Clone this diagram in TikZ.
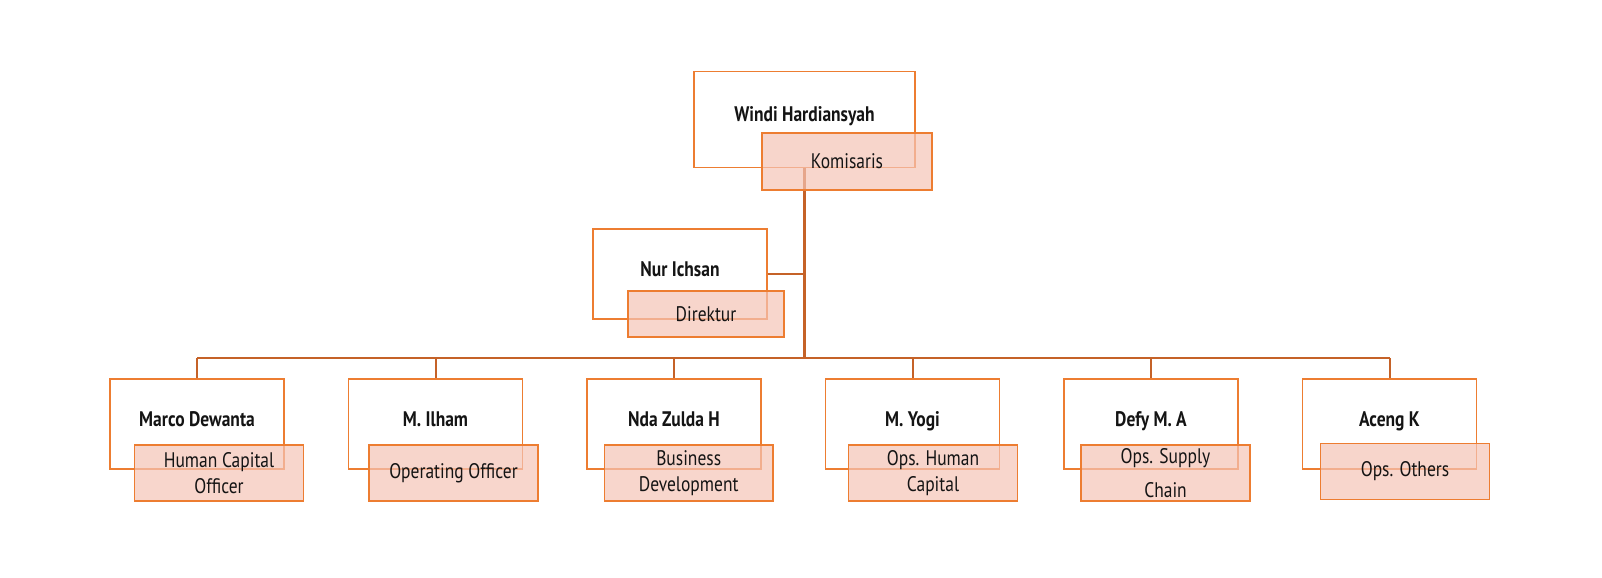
\documentclass[tikz,border=0pt]{standalone}
\usepackage{fontspec}
\setmainfont{PT Sans}[FakeStretch=0.83]
\definecolor{orgline}{RGB}{237,125,49}
\definecolor{orglink}{RGB}{197,98,40}
\definecolor{rolefill}{RGB}{245,196,182}
\definecolor{txtdark}{RGB}{20,20,20}
\usetikzlibrary{positioning,calc}

\begin{document}
\begin{tikzpicture}[x=0.75pt,y=-0.75pt,
    every node/.style={font=\fontsize{15.8}{20}\selectfont,text=txtdark},
    person/.style={draw=orgline,line width=1.1pt,fill=white,inner sep=0pt,text depth=7.5pt,
      minimum width=130.5pt,minimum height=67.5pt,font=\fontsize{15.8}{20}\selectfont\bfseries},
    role/.style={draw=orgline,line width=1.1pt,fill=rolefill,fill opacity=0.7,text opacity=1,
      inner sep=0pt,align=center,minimum width=126.5pt,minimum height=42pt},
    link/.style={draw=orglink,line width=1.5pt}]
  \useasboundingbox (0,0) rectangle (1602,578);

  %% Person boxes
  \node[person,minimum width=165.75pt,minimum height=72pt] (windi) at (804.5,119.5) {Windi Hardiansyah};
  \node[person] (nur)   at (680,274)    {Nur Ichsan};
  \node[person] (marco) at (197,424)    {Marco Dewanta};
  \node[person] (ilham) at (435.5,424)  {M. Ilham};
  \node[person] (nda)   at (674,424)    {Nda Zulda H};
  \node[person] (yogi)  at (912.5,424)  {M. Yogi};
  \node[person] (defy)  at (1151,424)   {Defy M. A};
  \node[person] (aceng) at (1389.5,424) {Aceng K};

  %% Connectors
  \coordinate (hub) at (804.5,358);
  \draw[link,line width=2.25pt] (windi.south) -- (hub);
  \draw[link,line width=1.2pt] (nur.east) -- (nur.east -| hub);
  \draw[link] (marco.north |- hub) -- (aceng.north |- hub);
  \foreach \p in {marco,ilham,nda,yogi,defy,aceng}
    \draw[link] (\p.north |- hub) -- (\p.north);

  %% Role labels
  \node[role,minimum width=127.5pt,minimum height=42.75pt] (komisaris) at (847,161.5) {Komisaris};
  \node[role,minimum width=117pt,minimum height=34.5pt] (direktur) at (706,314) {Direktur};
  \node[role] (hco)    at (219,473)    {Human Capital\\Officer};
  \node[role] (opoff)  at (453.5,473)  {Operating Officer};
  \node[role] (bizdev) at (688.7,473)  {Business\\Development};
  \node[role] (opshc)  at (933,473)    {Ops. Human\\Capital};
  \node[role] (opssc)  at (1165.5,473) {Ops. Supply\\[6pt]Chain};
  \node[role] (opsoth) at (1405,471.5) {Ops. Others};
\end{tikzpicture}
\end{document}
